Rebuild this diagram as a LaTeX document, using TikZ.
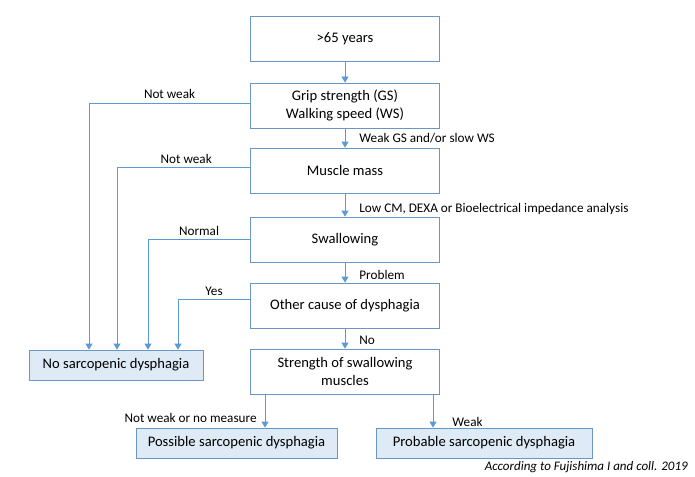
\documentclass[tikz,border=0pt]{standalone}
\usepackage{fontspec}
\setmainfont{Carlito}
\usetikzlibrary{arrows.meta}
\definecolor{lineblue}{HTML}{5B9BD5}
\definecolor{boxblue}{HTML}{6A95C5}
\definecolor{fillblue}{HTML}{DEEAF6}
\tikzset{
  stepbox/.style={draw=boxblue,line width=.8pt,minimum width=189pt,minimum height=45pt,align=center,font=\fontsize{14.6}{17.5}\selectfont,inner sep=0pt},
  endbox/.style={draw=boxblue,fill=fillblue,line width=.8pt,minimum height=30pt,font=\fontsize{14.6}{17.5}\selectfont,inner sep=0pt},
  arr/.style={draw=lineblue,line width=.8pt,-{Triangle[width=7pt,length=6pt]}},
  lbl/.style={font=\fontsize{13.2}{15}\selectfont,inner sep=2pt}
}
\begin{document}
\begin{tikzpicture}[x=1pt,y=-1pt]
\useasboundingbox (0,0) rectangle (695,476);
%main column
\node[stepbox] (age) at (345,38.5) {>65 years};
\node[stepbox] (grip) at (345,105.5) {Grip strength (GS)\\Walking speed (WS)};
\node[stepbox] (mass) at (345,170.5) {Muscle mass};
\node[stepbox] (swal) at (345,239.5) {Swallowing};
\node[stepbox] (other) at (345,305.5) {Other cause of dysphagia};
\node[stepbox] (strength) at (345,371.5) {Strength of swallowing\\muscles};
%results
\node[endbox,minimum width=174pt] (nosarc) at (116,365) {No sarcopenic dysphagia};
\node[endbox,minimum width=201pt] (possible) at (236.5,443) {Possible sarcopenic dysphagia};
\node[endbox,minimum width=216pt] (probable) at (484,443) {Probable sarcopenic dysphagia};
\node[lbl,anchor=east,font=\fontsize{13}{15}\selectfont\itshape] (src) at (690,467) {According to Fujishima I and coll. 2019};
%down the column
\draw[arr] (age) -- (grip);
\draw[arr] (grip) -- node[lbl,right,xshift=12pt] {Weak GS and/or slow WS} (mass);
\draw[arr] (mass) -- node[lbl,right,xshift=12pt,yshift=-4pt] {Low CM, DEXA or Bioelectrical impedance analysis} (swal);
\draw[arr] (swal) -- node[lbl,right,xshift=12pt,yshift=-2pt] {Problem} (other);
\draw[arr] (other) -- node[lbl,right,xshift=12pt,yshift=-2pt] {No} (strength);
%to the left
\draw[arr] ([yshift=2pt]grip.west) -| node[lbl,above,pos=.25,yshift=3pt] {Not weak} ([xshift=-27pt]nosarc.north);
\draw[arr] ([yshift=3pt]mass.west) -| node[lbl,above,pos=.24,yshift=2pt] {Not weak} ([xshift=1pt]nosarc.north);
\draw[arr] (swal.west) -| node[lbl,above,pos=.25,yshift=2pt] {Normal} ([xshift=32pt]nosarc.north);
\draw[arr] ([yshift=6pt]other.west) -| node[lbl,above,pos=.25,yshift=2pt] {Yes} ([xshift=62pt]nosarc.north);
%bottom
\draw[arr] ([xshift=-80pt]strength.south) -- node[lbl,left,pos=.72,xshift=-6pt] {Not weak or no measure} ([xshift=-80pt]strength.south |- possible.north);
\draw[arr] ([xshift=88pt]strength.south) -- node[lbl,right,pos=.82,xshift=17pt] {Weak} ([xshift=88pt]strength.south |- probable.north);
\end{tikzpicture}
\end{document}
